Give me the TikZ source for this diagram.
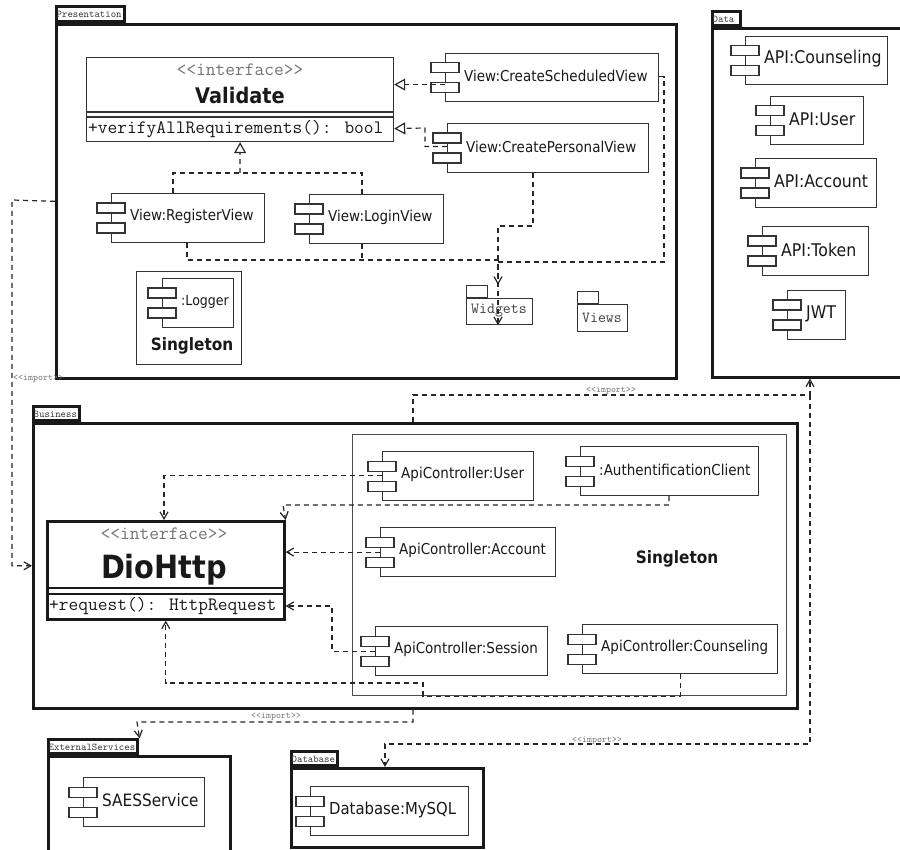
\documentclass[tikz,border=0pt]{standalone}
\usepackage{fontspec}
\setmainfont{DejaVu Sans}[FakeStretch=0.9]
\newcommand\monof{\ttfamily}
\usetikzlibrary{arrows.meta,calc}
\newcommand\myfs[1]{\fontsize{#1}{#1}\selectfont}
\newcommand\stq[1]{<\kern0pt<#1>\kern0pt>}
% component: name, x1,y1,x2,y2, font size, label
\newcommand\comp[7]{%
  \node[compbox, anchor=north west, minimum width={#4-#2}, minimum height={#5-#3}] (#1) at (#2,#3) {};
  \draw[compbox] ($(#1.west)+(-14,-15)$) rectangle ++(28,10);
  \draw[compbox] ($(#1.west)+(-14,5)$) rectangle ++(28,10);
  \node[anchor=west, inner sep=0, text=black!90, font=\myfs{#6}] (#1-t) at ($(#1.west)+(19,-1.5)$) {#7};}
% package: name, x1,y1,x2,y2 (body), tab x2, tab y1, label, font size
\newcommand\pkgbox[9]{%
  \node[pkgline, anchor=north west, minimum width={#4-#2}, minimum height={#5-#3}] (#1) at (#2,#3) {};
  \node[pkgline, anchor=south west, minimum width={#6-#2}, minimum height={#3-#7}] (#1-tab) at (#2,#3) {};
  \node[anchor=west, inner sep=0, font=\monof\myfs{#9}, text=black!80] (#1-lbl) at ($(#1-tab.west)+(1.5,0.5)$) {#8};}
\begin{document}
\begin{tikzpicture}[x=1pt,y=-1pt,
  pkgline/.style={draw=black!90, line width=2.6pt, inner sep=0},
  thinbox/.style={draw=black!80, line width=1.2pt, inner sep=0},
  compbox/.style={draw=black!80, fill=white, line width=1.2pt, inner sep=0},
  dline/.style={draw=black!85, line width=1.2pt, dash pattern=on 5pt off 4pt},
  dep/.style={dline, -{Straight Barb[length=7pt,width=8pt]}},
  real/.style={dline, -{Triangle[open,length=11pt,width=12pt]}},
  imp/.style={font=\monof\myfs{9.5}, text=black!55, inner sep=0},
  txt/.style={inner sep=0, text=black!90}]
\useasboundingbox[fill=white] (0,0) rectangle (900,850);

% ---------- packages ----------
\pkgbox{pres}{55}{23}{675}{377}{123}{8}{Presentation}{10.3}
\pkgbox{data}{711}{27}{903}{376}{739}{13}{Data}{10.3}
\pkgbox{bus}{32}{422}{796}{707}{78}{408}{Business}{10.3}
\pkgbox{ext}{47}{755}{229}{870}{136}{741}{ExternalServices}{10.3}
\pkgbox{db}{290}{767}{482}{846}{336}{753}{Database}{10.3}

% ---------- Presentation ----------
\node[thinbox, fill=white, anchor=north west, minimum width=307, minimum height=84] (val) at (86,57) {};
\draw[thinbox] (86,112) -- (393,112) (86,117) -- (393,117);
\node[txt, font=\monof\myfs{18.9}, text=black!55] (val-st) at (240,70) {\stq{interface}};
\node[txt, font=\bfseries\myfs{21.5}] (val-n) at (240,95.5) {Validate};
\node[txt, anchor=west, font=\monof\myfs{18.9}] (val-m) at (88,129) {+verifyAllRequirements(): bool};

\comp{csv}{445}{53}{658}{101}{15}{View:CreateScheduledView}
\comp{cpv}{447}{123}{648}{172}{15}{View:CreatePersonalView}
\comp{reg}{111}{193}{264}{242}{15}{View:RegisterView}
\comp{login}{309}{194}{443}{243}{15}{View:LoginView}

\node[thinbox, anchor=north west, minimum width=105, minimum height=93] (logbox) at (136,271) {};
\comp{logger}{162}{278}{233}{327}{14}{:Logger}
\node[txt, font=\bfseries\myfs{17}] (logbox-t) at (192,346) {Singleton};

\node[thinbox, anchor=north west, minimum width=66, minimum height=26] (wid) at (466,298) {};
\node[thinbox, anchor=south west, minimum width=21, minimum height=12] (wid-tab) at (466,298) {};
\node[txt, font=\monof\myfs{15.4}, text=black!75] (wid-t) at (499,311) {Widgets};
\node[thinbox, anchor=north west, minimum width=50, minimum height=27] (views) at (577,304) {};
\node[thinbox, anchor=south west, minimum width=21, minimum height=12] (views-tab) at (577,304) {};
\node[txt, font=\monof\myfs{15.4}, text=black!75] (views-t) at (602,318) {Views};

% ---------- Data ----------
\comp{dcoun}{745}{36}{887}{84}{17.5}{API:Counseling}
\comp{duser}{770}{96}{863}{144}{17.5}{API:User}
\comp{dacc}{755}{158}{876}{207}{17.5}{API:Account}
\comp{dtok}{762}{226}{868}{275}{17.5}{API:Token}
\comp{jwt}{787}{290}{845}{339}{17.5}{JWT}

% ---------- Business ----------
\node[pkgline, anchor=north west, minimum width=237, minimum height=98] (dio) at (46,520) {};
\draw[line width=2.2pt, black!90] (46,588) -- (283,588) (46,594) -- (283,594);
\node[txt, font=\monof\myfs{18.9}, text=black!55] (dio-st) at (164,534) {\stq{interface}};
\node[txt, font=\bfseries\myfs{32}] (dio-n) at (164,569.5) {DioHttp};
\node[txt, anchor=west, font=\monof\myfs{18.9}] (dio-m) at (49,606) {+request(): HttpRequest};

\node[draw=black!70, line width=1.2pt, inner sep=0, anchor=north west, minimum width=434, minimum height=261] (sing) at (352,434) {};
\node[txt, font=\bfseries\myfs{17}] (sing-t) at (677,559) {Singleton};
\comp{auser}{382}{451}{533}{500}{15}{ApiController:User}
\comp{auth}{580}{446}{758}{495}{15}{:AuthentificationClient}
\comp{aacc}{380}{527}{555}{576}{15}{ApiController:Account}
\comp{asess}{375}{626}{547}{675}{15}{ApiController:Session}
\comp{acoun}{582}{624}{777}{673}{15}{ApiController:Counseling}

% ---------- External / Database ----------
\comp{saes}{83}{777}{204}{826}{17}{SAESService}
\comp{mysql}{310}{786}{468}{835}{16.5}{Database:MySQL}

% ---------- connectors: Presentation ----------
\draw[real] ($(csv.west)+(0,7)$) -- ($(val.east)+(0,-15)$);
\draw[real] ($(cpv.west)+(0,-1.5)$) -| (425,128) -- ($(val.east)+(0,29)$);
\draw[dline] ($(reg.north west)+(62,0)$) -- (173,173) -- (362,173) -- ($(login.north west)+(53,0)$);
\draw[real] (240,173) -- (val.south);

\coordinate (wj) at (498,260);
\draw[dep] ($(reg.south west)+(76,0)$) |- (wj) -- (wj |- wid-tab.north);
\draw[dline] ($(login.south west)+(53,0)$) -- (362,260);
\draw[dep] ($(cpv.south west)+(86,0)$) |- (498,226) -- (wj |- wid.south);
\draw[dline] ($(csv.east)+(0,-1)$) -| (664,262) -- ($(wj)+(0,2)$);

% ---------- imports ----------
\draw[dep] (pres.west) -- (12,200) |- (bus.west);
\node[imp, anchor=west] (imp1) at (13,379) {\stq{import}};

\coordinate (id) at (810,395);
\draw[dep] ($(bus.north west)+(381,0)$) |- (id) -- (id |- data.south);
\node[imp] (imp2) at (611,391) {\stq{import}};

\coordinate (dbj) at (385,744);
\draw[dep] (id) |- (dbj) -- (dbj |- db.north);
\node[imp] (imp4) at (597,741) {\stq{import}};

\draw[dep] ($(bus.south west)+(381,0)$) |- (137,722) -- ($(ext-tab.north east)+(1,0)$);
\node[imp] (imp3) at (276,717) {\stq{import}};

% ---------- connectors: Business ----------
\draw[dep] ($(auser.west)+(0,-0.5)$) -| ($(dio.north west)+(118,0)$);
\coordinate (aj) at (283,505);
\draw[dep] ($(auth.south west)+(89,0)$) |- (aj) -- (dio.north east);
\draw[dep] (aacc.west) -- (dio.east |- aacc.west);
\coordinate (sj) at (332,606);
\draw[dep] (asess.west) -| (sj) -- (dio.east |- sj);
\draw[dep] (acoun.south) -- ++(0,22) -| (423,683) -| (dio.south);
\end{tikzpicture}
\end{document}
